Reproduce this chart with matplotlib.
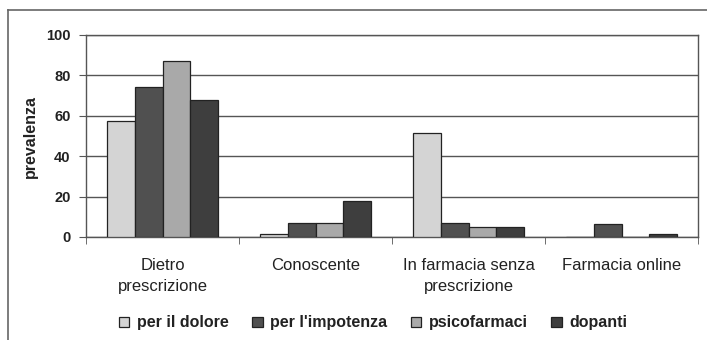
import numpy as np
import matplotlib.pyplot as plt
from matplotlib.lines import Line2D

plt.rcParams['font.family'] = ['Liberation Sans', 'DejaVu Sans']

categories = ["Dietro\nprescrizione", "Conoscente", "In farmacia senza\nprescrizione", "Farmacia online"]
series = ["per il dolore", "per l'impotenza", "psicofarmaci", "dopanti"]
dolore = [57.5, 1.5, 51.5, 0]
impotenza = [74.5, 7, 7, 6.5]
psicofarmaci = [87, 7, 5, 0]
dopanti = [68, 18, 5, 1.5]
colors = ["#d4d4d4", "#505050", "#a9a9a9", "#3e3e3e"]

fig = plt.figure(figsize=(7.07, 3.40), dpi=100)
ax = fig.add_axes([86 / 707, 1 - 237 / 340, (698 - 86) / 707, (237 - 35) / 340])

x = np.arange(len(categories))
w = 0.183
for i, (vals, lab) in enumerate(zip([dolore, impotenza, psicofarmaci, dopanti], series)):
    ax.bar(x + (i - 1.5) * w, vals, w, color=colors[i], edgecolor="#222222",
           linewidth=0.9, label=lab, zorder=3)

ax.set_xlim(-0.5, len(categories) - 0.5)
ax.set_ylim(0, 100)
ax.set_yticks([0, 20, 40, 60, 80, 100])
ax.yaxis.grid(True, color="#555555", linewidth=1.0, zorder=0)
ax.set_axisbelow(True)

ax.set_xticks(x)
ax.set_xticklabels(categories, fontsize=12, color="#222222", linespacing=1.55)
ax.tick_params(axis="x", which="major", length=0, pad=15)
ax.set_xticks(np.arange(-0.5, len(categories)), minor=True)
ax.tick_params(axis="x", which="minor", length=5, direction="out", color="#555555")
ax.tick_params(axis="y", length=5, direction="out", color="#555555", labelsize=10.5,
               labelcolor="#222222", pad=6)
for lbl in ax.get_yticklabels():
    lbl.set_fontweight("bold")

for s in ["top", "right", "left", "bottom"]:
    ax.spines[s].set_color("#555555")
    ax.spines[s].set_linewidth(1.0)

ax.set_ylabel("prevalenza", fontsize=11.5, fontweight="bold", color="#222222", labelpad=6)

ax.legend(loc="center", bbox_to_anchor=(373 / 707, 1 - 323 / 340), bbox_transform=fig.transFigure,
          ncol=4, frameon=False, prop={"size": 11.5, "weight": "bold"},
          handlelength=0.65, handleheight=0.65, handletextpad=0.45, columnspacing=1.5)
for t in ax.get_legend().get_texts():
    t.set_color("#222222")

# outer chart frame (partially visible)
fig.add_artist(Line2D([8 / 707, 8 / 707], [0, 1 - 10 / 340], color="#666666", linewidth=1.2,
                      transform=fig.transFigure))
fig.add_artist(Line2D([8 / 707, 1], [1 - 10 / 340, 1 - 10 / 340], color="#666666", linewidth=1.2,
                      transform=fig.transFigure))

fig.savefig("out.png", dpi=100)
